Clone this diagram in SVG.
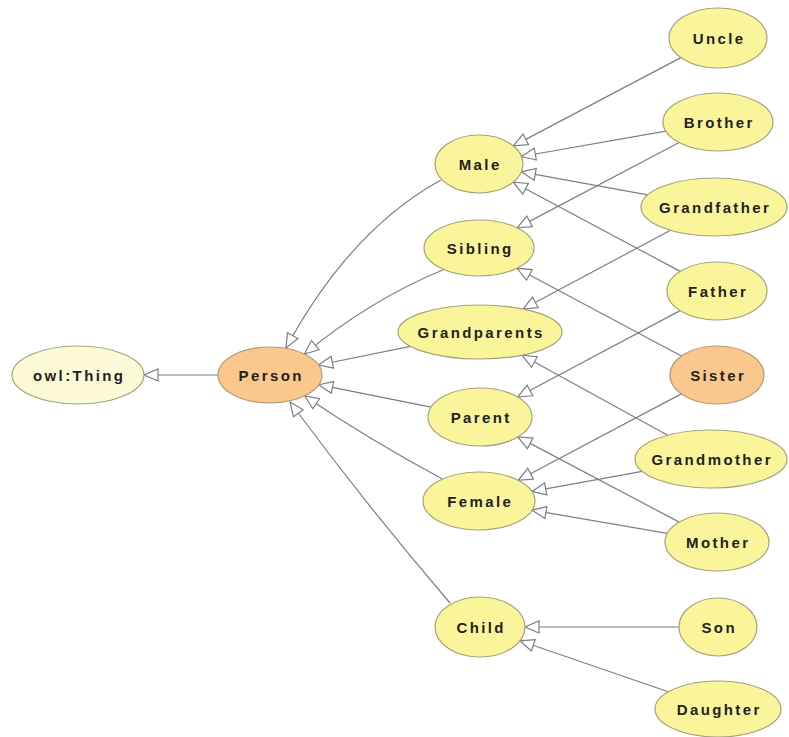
<svg xmlns="http://www.w3.org/2000/svg" width="789" height="737" viewBox="0 0 789 737">
<style>
.bg{fill:#ffffff}
.n ellipse{fill:#faf59b;stroke:#a3a379;stroke-width:1.2}
.n.root ellipse{fill:#fcfad6}
.n.hl ellipse{fill:#fac88c;stroke:#b39a78}
.n text{font-family:"Liberation Sans",Arial,sans-serif;font-size:15px;font-weight:bold;letter-spacing:2.4px;fill:#222222;text-anchor:middle}
.e path{fill:none;stroke:#7d7d8a;stroke-width:1.2;marker-end:url(#tri)}
</style>
<defs>
<marker id="tri" markerUnits="userSpaceOnUse" markerWidth="16" markerHeight="16" viewBox="0 0 16 14" refX="15" refY="7" orient="auto">
<path d="M1,1 L15,7 L1,13 Z" fill="#ffffff" stroke="#7d7d8a" stroke-width="1.2"/>
</marker>
</defs>
<rect class="bg" x="0" y="0" width="789" height="737"/>
<g id="connectors" class="e">
<path d="M218,375 L144,375"/>
<path d="M441,180 Q350,230 286,348"/>
<path d="M443.7,269.5 Q370,300 304.5,354"/>
<path d="M410.4,346.3 L318.6,365"/>
<path d="M431,407.2 L318.7,384.7"/>
<path d="M442.5,479 Q370,440 304.6,395.9"/>
<path d="M450,603 Q366,505 290,402"/>
<path d="M680.9,57.6 L513.4,145.9"/>
<path d="M665.8,131.2 L521.5,156.5"/>
<path d="M679.1,142.5 L517.2,227.9"/>
<path d="M647.7,194.9 L521.4,171.8"/>
<path d="M670.4,230.3 L523,309"/>
<path d="M680.2,271.4 L513.2,182.2"/>
<path d="M680.1,310.6 L517.6,397"/>
<path d="M681.4,356 L517,268.3"/>
<path d="M681.3,393.9 L518.2,480.3"/>
<path d="M667.7,435.2 L522.1,355.2"/>
<path d="M642.3,471.4 L531.9,491.4"/>
<path d="M679.2,522.1 L517.8,436.9"/>
<path d="M667.3,533.4 L532.1,510.2"/>
<path d="M679,627 L525,627"/>
<path d="M668.2,691.8 L520,640.8"/>
</g>
<g id="owlThing" class="n root"><ellipse cx="78" cy="375" rx="66" ry="29"/><text x="79.2" y="380.5">owl:Thing</text></g>
<g id="Person" class="n hl"><ellipse cx="270" cy="375" rx="52" ry="28"/><text x="271.2" y="380.5">Person</text></g>
<g id="Male" class="n"><ellipse cx="479" cy="164" rx="44" ry="29"/><text x="480.2" y="169.5">Male</text></g>
<g id="Sibling" class="n"><ellipse cx="479" cy="248" rx="55" ry="28"/><text x="480.2" y="253.5">Sibling</text></g>
<g id="Grandparents" class="n"><ellipse cx="480" cy="332" rx="82" ry="27"/><text x="481.2" y="337.5">Grandparents</text></g>
<g id="Parent" class="n"><ellipse cx="480" cy="417" rx="52" ry="29"/><text x="481.2" y="422.5">Parent</text></g>
<g id="Female" class="n"><ellipse cx="479" cy="501" rx="56" ry="29"/><text x="480.2" y="506.5">Female</text></g>
<g id="Child" class="n"><ellipse cx="480" cy="627" rx="45" ry="30"/><text x="481.2" y="632.5">Child</text></g>
<g id="Uncle" class="n"><ellipse cx="718" cy="38" rx="49" ry="30"/><text x="719.2" y="43.5">Uncle</text></g>
<g id="Brother" class="n"><ellipse cx="718" cy="122" rx="55" ry="29"/><text x="719.2" y="127.5">Brother</text></g>
<g id="Grandfather" class="n"><ellipse cx="714" cy="207" rx="73" ry="29"/><text x="715.2" y="212.5">Grandfather</text></g>
<g id="Father" class="n"><ellipse cx="717" cy="291" rx="50" ry="29"/><text x="718.2" y="296.5">Father</text></g>
<g id="Sister" class="n hl"><ellipse cx="717" cy="375" rx="47" ry="29"/><text x="718.2" y="380.5">Sister</text></g>
<g id="Grandmother" class="n"><ellipse cx="711" cy="459" rx="76" ry="29"/><text x="712.2" y="464.5">Grandmother</text></g>
<g id="Mother" class="n"><ellipse cx="717" cy="542" rx="52" ry="29"/><text x="718.2" y="547.5">Mother</text></g>
<g id="Son" class="n"><ellipse cx="718" cy="627" rx="39" ry="29"/><text x="719.2" y="632.5">Son</text></g>
<g id="Daughter" class="n"><ellipse cx="718" cy="709" rx="63" ry="28"/><text x="719.2" y="714.5">Daughter</text></g>
</svg>
